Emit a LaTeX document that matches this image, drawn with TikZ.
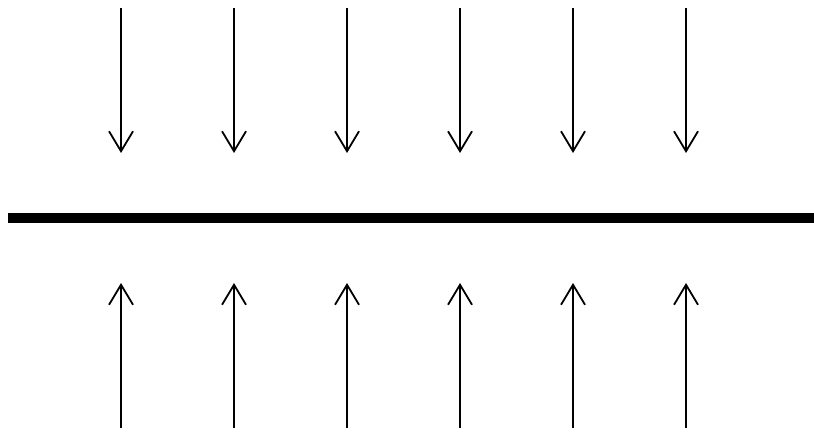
\documentclass[tikz,border=0pt]{standalone}
\usepackage{tikz}
\usetikzlibrary{arrows.meta}
\tikzstyle{arrow} = [line width=1.8pt,-{Straight Barb[length=20pt,width=24pt,line width=1.8pt]}]
\tikzstyle{wall} = [line width=10pt]

\begin{document}
\begin{tikzpicture}[x=1pt,y=1pt]

\useasboundingbox (0,0) rectangle (814,432);

% Wall
\coordinate (wallL) at (8,214);
\coordinate (wallR) at (814,214);
\draw [wall] (wallL) -- (wallR);

% Arrows from above and below
\foreach \i/\x in {1/121,2/234,3/347,4/460,5/573,6/686} {
  \coordinate (top\i) at (\x,424);
  \coordinate (toptip\i) at (\x,279);
  \coordinate (bot\i) at (\x,4);
  \coordinate (bottip\i) at (\x,149);
  \draw [arrow] (top\i) -- (toptip\i);
  \draw [arrow] (bot\i) -- (bottip\i);
}

\end{tikzpicture}
\end{document}
